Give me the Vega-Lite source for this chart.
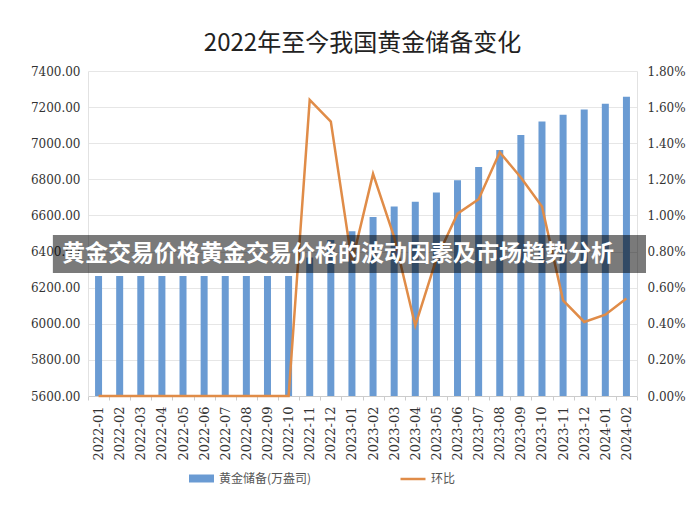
{
  "$schema": "https://vega.github.io/schema/vega-lite/v6.json",
  "autosize": "none",
  "width": 549,
  "height": 325,
  "padding": {"left": 88, "top": 71, "right": 63, "bottom": 113},
  "background": "white",
  "title": {
    "text": "2022年至今我国黄金储备变化",
    "font": "Noto Sans CJK SC",
    "fontSize": 24,
    "fontWeight": "normal",
    "color": "#222222",
    "anchor": "middle",
    "offset": 9
  },
  "config": {
    "view": {"stroke": null},
    "axis": {"labelFont": "DejaVu Serif", "labelColor": "#333333", "labelFontSize": 12, "title": null}
  },
  "datasets": {
    "gold": [
      {"month": "2022-01", "series": "黄金储备(万盎司)", "line": "环比", "reserve": 6264, "mom": 0.0},
      {"month": "2022-02", "series": "黄金储备(万盎司)", "line": "环比", "reserve": 6264, "mom": 0.0},
      {"month": "2022-03", "series": "黄金储备(万盎司)", "line": "环比", "reserve": 6264, "mom": 0.0},
      {"month": "2022-04", "series": "黄金储备(万盎司)", "line": "环比", "reserve": 6264, "mom": 0.0},
      {"month": "2022-05", "series": "黄金储备(万盎司)", "line": "环比", "reserve": 6264, "mom": 0.0},
      {"month": "2022-06", "series": "黄金储备(万盎司)", "line": "环比", "reserve": 6264, "mom": 0.0},
      {"month": "2022-07", "series": "黄金储备(万盎司)", "line": "环比", "reserve": 6264, "mom": 0.0},
      {"month": "2022-08", "series": "黄金储备(万盎司)", "line": "环比", "reserve": 6264, "mom": 0.0},
      {"month": "2022-09", "series": "黄金储备(万盎司)", "line": "环比", "reserve": 6264, "mom": 0.0},
      {"month": "2022-10", "series": "黄金储备(万盎司)", "line": "环比", "reserve": 6264, "mom": 0.0},
      {"month": "2022-11", "series": "黄金储备(万盎司)", "line": "环比", "reserve": 6367, "mom": 0.0164},
      {"month": "2022-12", "series": "黄金储备(万盎司)", "line": "环比", "reserve": 6464, "mom": 0.0152},
      {"month": "2023-01", "series": "黄金储备(万盎司)", "line": "环比", "reserve": 6512, "mom": 0.0074},
      {"month": "2023-02", "series": "黄金储备(万盎司)", "line": "环比", "reserve": 6592, "mom": 0.0123},
      {"month": "2023-03", "series": "黄金储备(万盎司)", "line": "环比", "reserve": 6650, "mom": 0.0088},
      {"month": "2023-04", "series": "黄金储备(万盎司)", "line": "环比", "reserve": 6676, "mom": 0.0039},
      {"month": "2023-05", "series": "黄金储备(万盎司)", "line": "环比", "reserve": 6727, "mom": 0.0076},
      {"month": "2023-06", "series": "黄金储备(万盎司)", "line": "环比", "reserve": 6795, "mom": 0.0101},
      {"month": "2023-07", "series": "黄金储备(万盎司)", "line": "环比", "reserve": 6869, "mom": 0.0109},
      {"month": "2023-08", "series": "黄金储备(万盎司)", "line": "环比", "reserve": 6962, "mom": 0.0135},
      {"month": "2023-09", "series": "黄金储备(万盎司)", "line": "环比", "reserve": 7046, "mom": 0.0121},
      {"month": "2023-10", "series": "黄金储备(万盎司)", "line": "环比", "reserve": 7120, "mom": 0.0105},
      {"month": "2023-11", "series": "黄金储备(万盎司)", "line": "环比", "reserve": 7158, "mom": 0.0053},
      {"month": "2023-12", "series": "黄金储备(万盎司)", "line": "环比", "reserve": 7187, "mom": 0.0041},
      {"month": "2024-01", "series": "黄金储备(万盎司)", "line": "环比", "reserve": 7219, "mom": 0.0045},
      {"month": "2024-02", "series": "黄金储备(万盎司)", "line": "环比", "reserve": 7258, "mom": 0.0054}
    ],
    "banner": [
      {"x1": -0.064, "x2": 1.0164, "tx": 0.4554, "y1": 6281, "y2": 6492, "ty": 6386, "label": "黄金交易价格黄金交易价格的波动因素及市场趋势分析"}
    ]
  },
  "resolve": {"scale": {"y": "independent", "x": "independent"}},
  "layer": [
    {
      "data": {"name": "gold"},
      "mark": {"type": "bar", "size": 7, "clip": true},
      "encoding": {
        "x": {
          "field": "month", "type": "ordinal", "sort": null,
          "scale": {"type": "band", "paddingInner": 0, "paddingOuter": 0},
          "axis": {
            "labelAngle": -90, "labelFontSize": 13, "labelPadding": 6,
            "domainColor": "#cccccc", "tickColor": "#cccccc", "tickSize": 4,
            "tickBand": "extent", "grid": false
          }
        },
        "y": {
          "field": "reserve", "type": "quantitative",
          "scale": {"domain": [5600, 7400], "nice": false, "zero": false},
          "axis": {
            "orient": "left", "values": [5600, 5800, 6000, 6200, 6400, 6600, 6800, 7000, 7200, 7400],
            "format": ".2f", "ticks": false, "labelPadding": 8,
            "domain": true, "domainColor": "#e2e2e2",
            "grid": true, "gridColor": "#e6e6e6"
          }
        },
        "fill": {
          "field": "series", "type": "nominal",
          "scale": {"range": ["#6a9bd3"]},
          "legend": {
            "title": null, "orient": "none", "legendX": 100, "legendY": 394,
            "symbolType": "M-1,-0.32H1V0.32H-1Z", "symbolSize": 625,
            "labelFont": "Noto Sans CJK SC", "labelFontSize": 12, "labelColor": "#555555"
          }
        }
      }
    },
    {
      "data": {"name": "gold"},
      "mark": {"type": "line", "strokeWidth": 2.5, "strokeJoin": "miter"},
      "encoding": {
        "x": {"field": "month", "type": "ordinal", "sort": null, "scale": {"type": "point", "padding": 0.5}, "axis": null},
        "y": {
          "field": "mom", "type": "quantitative",
          "scale": {"domain": [0, 0.018], "nice": false},
          "axis": {
            "orient": "right", "values": [0, 0.002, 0.004, 0.006, 0.008, 0.01, 0.012, 0.014, 0.016, 0.018],
            "format": ".2%", "ticks": false, "labelPadding": 10,
            "domain": true, "domainColor": "#e2e2e2", "grid": false
          }
        },
        "stroke": {
          "field": "line", "type": "nominal",
          "scale": {"range": ["#e08c48"]},
          "legend": {
            "title": null, "orient": "none", "legendX": 311, "legendY": 394,
            "symbolType": "stroke", "symbolSize": 625, "symbolStrokeWidth": 2.5,
            "labelFont": "Noto Sans CJK SC", "labelFontSize": 12, "labelColor": "#555555"
          }
        }
      }
    },
    {
      "data": {"name": "banner"},
      "mark": {"type": "rect", "color": "#000000", "opacity": 0.52},
      "encoding": {
        "x": {"field": "x1", "type": "quantitative", "scale": {"domain": [0, 1], "nice": false, "zero": false}, "axis": null},
        "x2": {"field": "x2"},
        "y": {"field": "y1", "type": "quantitative", "scale": {"domain": [5600, 7400], "nice": false, "zero": false}, "axis": null},
        "y2": {"field": "y2"}
      }
    },
    {
      "data": {"name": "banner"},
      "mark": {"type": "text", "color": "#ffffff", "font": "Noto Sans CJK SC", "fontSize": 23, "fontWeight": "bold", "baseline": "middle", "align": "center"},
      "encoding": {
        "x": {"field": "tx", "type": "quantitative", "scale": {"domain": [0, 1], "nice": false, "zero": false}, "axis": null},
        "y": {"field": "ty", "type": "quantitative", "scale": {"domain": [5600, 7400], "nice": false, "zero": false}, "axis": null},
        "text": {"field": "label"}
      }
    }
  ]
}
